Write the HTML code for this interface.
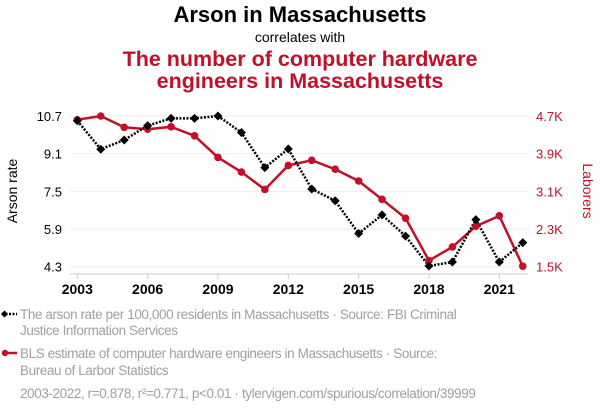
<!DOCTYPE html>
<html><head><meta charset="utf-8"><style>
body{margin:0;background:#fff;width:600px;height:414px;overflow:hidden;font-family:"Liberation Sans",sans-serif}
</style></head><body>
<svg id="chart" width="600" height="414" xmlns="http://www.w3.org/2000/svg" font-family="Liberation Sans, sans-serif">
<text x="300" y="22" text-anchor="middle" font-size="22" font-weight="bold" fill="#000">Arson in Massachusetts</text>
<text x="300" y="42" text-anchor="middle" font-size="14" fill="#000">correlates with</text>
<text x="300" y="66" text-anchor="middle" font-size="21.5" font-weight="bold" fill="#c0102a">The number of computer hardware</text>
<text x="300" y="88" text-anchor="middle" font-size="21.5" font-weight="bold" fill="#c0102a">engineers in Massachusetts</text>
<g id="grid"></g><g id="axes"></g><g id="series"></g>
<text transform="translate(17,191) rotate(-90)" text-anchor="middle" font-size="14" fill="#000">Arson rate</text>
<text transform="translate(583,191) rotate(90)" text-anchor="middle" font-size="14" fill="#c0102a">Laborers</text>
<g font-size="13.5" letter-spacing="-0.4">
<line x1="2" y1="314" x2="17" y2="314" stroke="#000" stroke-width="2.5" stroke-dasharray="2,1.5"/>
<path d="M4.5 310.5 L8 314 L4.5 317.5 L1 314Z" fill="#000"/>
<text x="20" y="319" fill="#a0a0a0">The arson rate per 100,000 residents in Massachusetts · Source: FBI Criminal</text>
<text x="20" y="335" fill="#a0a0a0">Justice Information Services</text>
</g>
<g font-size="13.5" letter-spacing="-0.4">
<line x1="2" y1="353" x2="17" y2="353" stroke="#c0102a" stroke-width="2.5"/>
<circle cx="5" cy="353" r="3.2" fill="#c0102a"/>
<text x="20" y="358" fill="#a0a0a0">BLS estimate of computer hardware engineers in Massachusetts · Source:</text>
<text x="20" y="375" fill="#a0a0a0">Bureau of Larbor Statistics</text>
</g>
<text x="20" y="398" font-size="13.5" letter-spacing="-0.4" fill="#a0a0a0">2003-2022, r=0.878, r²=0.771, p&lt;0.01 · tylervigen.com/spurious/correlation/39999</text>
</svg>
<script>
const years=[2003,2004,2005,2006,2007,2008,2009,2010,2011,2012,2013,2014,2015,2016,2017,2018,2019,2020,2021,2022];
const arson=[10.5,9.29,9.68,10.29,10.6,10.6,10.7,10.0,8.51,9.3,7.6,7.1,5.71,6.5,5.6,4.33,4.5,6.3,4.5,5.32];
const engineers=[4.62,4.7,4.46,4.42,4.47,4.28,3.82,3.51,3.14,3.65,3.76,3.57,3.32,2.93,2.53,1.63,1.92,2.36,2.58,1.51];
const leftTicks=[10.7,9.1,7.5,5.9,4.3];
const leftTickLabels=["10.7","9.1","7.5","5.9","4.3"];
const rightTicks=[4.7,3.9,3.1,2.3,1.5];
const rightTickLabels=["4.7K","3.9K","3.1K","2.3K","1.5K"];
const xTicks=[2003,2006,2009,2012,2015,2018,2021];
const NS="http://www.w3.org/2000/svg";
const x=v=>77.3+(v-2003)*(499.3-77.3)/18;
const yL=v=>116+(10.7-v)*(266.7-116)/6.4;
const yR=v=>116+(4.7-v)*(266.7-116)/3.2;
function mk(tag,attrs,parent,text){const e=document.createElementNS(NS,tag);for(const k in attrs)e.setAttribute(k,attrs[k]);if(text!==undefined)e.textContent=text;parent.appendChild(e);return e;}
const grid=document.getElementById('grid'),axes=document.getElementById('axes'),series=document.getElementById('series');
leftTicks.forEach((t,i)=>{
  const g=mk('line',{x1:70,x2:528,y1:yL(t),y2:yL(t),stroke:'#eee','stroke-width':1},grid);
  
  
  const l=mk('text',{x:62,y:yL(t)+5,'text-anchor':'end','font-size':13,fill:'#000'},axes,leftTickLabels[i]);
  
  
});
rightTicks.forEach((t,i)=>{
  const l=mk('text',{x:536,y:yR(t)+5,'font-size':13,fill:'#c0102a'},axes,rightTickLabels[i]);
  
  
});
const ax=mk('line',{x1:70,x2:528,y1:274,y2:274,stroke:'#ccc','stroke-width':1},axes);


xTicks.forEach(t=>{
  const tk=mk('line',{x1:x(t),x2:x(t),y1:274,y2:279,stroke:'#ccc'},axes);
  
  
  const l=mk('text',{x:x(t),y:294,'text-anchor':'middle','font-size':14,'font-weight':'bold',fill:'#000'},axes,String(t));
  
  
});
const rl=mk('polyline',{points:years.map((y,i)=>x(y)+','+yR(engineers[i])).join(' '),fill:'none',stroke:'#c0102a','stroke-width':2.5},series);


const bl=mk('polyline',{points:years.map((y,i)=>x(y)+','+yL(arson[i])).join(' '),fill:'none',stroke:'#000','stroke-width':2.5,'stroke-dasharray':'2,1.5'},series);


years.forEach((y,i)=>{
  const c=mk('circle',{cx:x(y),cy:yR(engineers[i]),r:3.8,fill:'#c0102a'},series);
  
  
});
years.forEach((y,i)=>{
  const cx=x(y),cy=yL(arson[i]);
  const d=mk('path',{d:`M${cx} ${cy-4.5}L${cx+4.5} ${cy}L${cx} ${cy+4.5}L${cx-4.5} ${cy}Z`,fill:'#000'},series);
  
  
});
</script>
</body></html>
